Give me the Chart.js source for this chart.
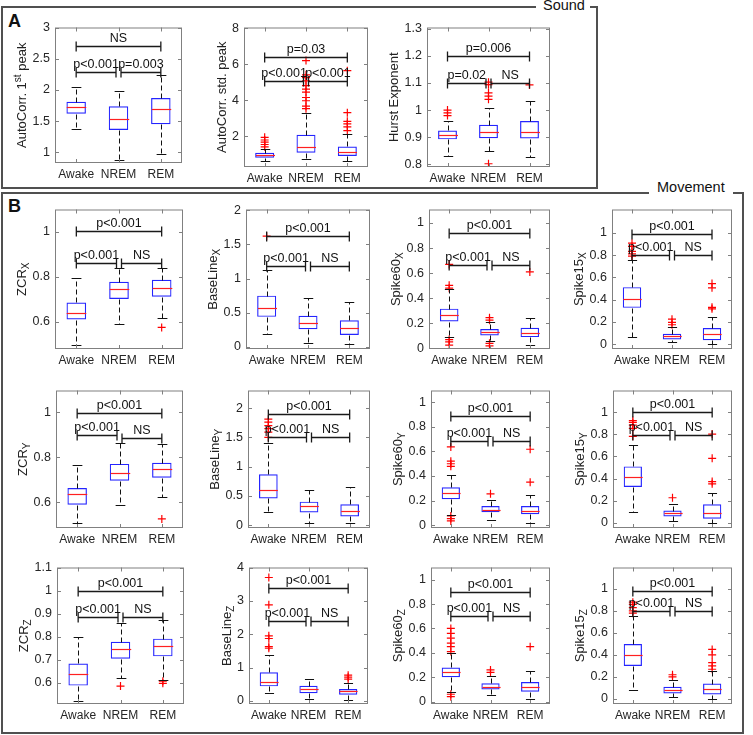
<!DOCTYPE html>
<html>
<head>
<meta charset="utf-8">
<script src="https://cdn.jsdelivr.net/npm/chart.js@4/dist/chart.umd.min.js"></script>
<style>
body { margin: 0; background: #fff; width: 753px; height: 735px; position: relative; overflow: hidden; font-family: 'Liberation Sans', Arial, sans-serif; }
canvas { position: absolute; }
.ln { position: absolute; background: #505050; }
.tx { position: absolute; color: #111; white-space: nowrap; line-height: 1; }
</style>
</head>
<body>
<!-- panel A frame -->
<div class="ln" style="left:1px;top:6px;width:535px;height:2px"></div>
<div class="ln" style="left:590px;top:6px;width:8px;height:2px"></div>
<div class="ln" style="left:596px;top:6px;width:2px;height:183px"></div>
<div class="ln" style="left:1px;top:6px;width:2px;height:183px"></div>
<div class="ln" style="left:1px;top:187px;width:597px;height:2px"></div>
<div class="tx" style="left:543px;top:-2px;font-size:14.5px">Sound</div>
<div class="tx" style="left:8px;top:12px;font-size:18px;font-weight:bold">A</div>
<!-- panel B frame -->
<div class="ln" style="left:1px;top:192px;width:648px;height:2px"></div>
<div class="ln" style="left:733px;top:192px;width:10px;height:2px"></div>
<div class="ln" style="left:742px;top:192px;width:2px;height:542px"></div>
<div class="ln" style="left:1px;top:192px;width:2px;height:542px"></div>
<div class="ln" style="left:1px;top:732px;width:743px;height:2px"></div>
<div class="tx" style="left:657px;top:180px;font-size:14.5px">Movement</div>
<div class="tx" style="left:8px;top:197px;font-size:18px;font-weight:bold">B</div>

<script>
// Data
const categories = ['Awake', 'NREM', 'REM'];

const yLabelParts = [
    [['AutoCorr. 1', 'n'], ['st', 'sup'], [' peak', 'n']],
    [['AutoCorr. std. peak', 'n']],
    [['Hurst Exponent', 'n']],
    [['ZCR', 'n'], ['X', 'sub']],
    [['BaseLine', 'n'], ['X', 'sub']],
    [['Spike60', 'n'], ['X', 'sub']],
    [['Spike15', 'n'], ['X', 'sub']],
    [['ZCR', 'n'], ['Y', 'sub']],
    [['BaseLine', 'n'], ['Y', 'sub']],
    [['Spike60', 'n'], ['Y', 'sub']],
    [['Spike15', 'n'], ['Y', 'sub']],
    [['ZCR', 'n'], ['Z', 'sub']],
    [['BaseLine', 'n'], ['Z', 'sub']],
    [['Spike60', 'n'], ['Z', 'sub']],
    [['Spike15', 'n'], ['Z', 'sub']]
];

const yLimits = [
    [0.83, 3], [0.3, 8.05], [0.79, 1.305],
    [0.48, 1.1], [-0.03, 2.01], [-0.005, 1.108], [-0.044, 1.21],
    [0.487, 1.096], [-0.05, 2.3], [-0.024, 1.097], [-0.046, 1.195],
    [0.507, 1.1], [-0.095, 4], [-0.02, 1.1], [-0.046, 1.195]
];

const yTicks = [
    [1, 1.5, 2, 2.5, 3], [2, 4, 6, 8], [0.8, 0.9, 1, 1.1, 1.2, 1.3],
    [0.6, 0.8, 1], [0, 0.5, 1, 1.5, 2], [0, 0.2, 0.4, 0.6, 0.8, 1], [0, 0.2, 0.4, 0.6, 0.8, 1],
    [0.6, 0.8, 1], [0, 0.5, 1, 1.5, 2], [0, 0.2, 0.4, 0.6, 0.8, 1], [0, 0.2, 0.4, 0.6, 0.8, 1],
    [0.6, 0.7, 0.8, 0.9, 1, 1.1], [0, 1, 2, 3, 4], [0, 0.2, 0.4, 0.6, 0.8, 1], [0, 0.2, 0.4, 0.6, 0.8, 1]
];

// box statistics per panel: [Awake, NREM, REM]
const whiskerLow = [
    [1.37, 0.88, 0.97], [0.61, 0.74, 0.61], [0.83, 0.848, 0.826],
    [0.497, 0.59, 0.619], [0.19, 0.06, 0.04], [0.09, 0.057, 0.03], [0.064, 0.02, 0],
    [0.507, 0.589, 0.624], [0.22, 0.044, 0.044], [0.084, 0.04, 0.013], [0.102, 0.02, 0.003],
    [0.52, 0.622, 0.613], [0.241, 0.068, 0.039], [0.08, 0.05, 0.02], [0.08, 0.02, 0]
];
const q1 = [
    [1.62, 1.36, 1.45], [0.81, 1.09, 0.91], [0.892, 0.896, 0.895],
    [0.611, 0.702, 0.712], [0.44, 0.26, 0.175], [0.214, 0.103, 0.09], [0.326, 0.041, 0.035],
    [0.59, 0.696, 0.71], [0.456, 0.214, 0.148], [0.21, 0.105, 0.089], [0.324, 0.058, 0.038],
    [0.587, 0.704, 0.714], [0.434, 0.231, 0.183], [0.2, 0.1, 0.08], [0.3, 0.05, 0.04]
];
const median = [
    [1.73, 1.54, 1.7], [0.96, 1.42, 1.12], [0.907, 0.92, 0.92],
    [0.64, 0.748, 0.753], [0.57, 0.35, 0.28], [0.27, 0.13, 0.124], [0.404, 0.07, 0.087],
    [0.637, 0.731, 0.747], [0.604, 0.319, 0.247], [0.263, 0.126, 0.118], [0.414, 0.085, 0.09],
    [0.639, 0.746, 0.757], [0.569, 0.357, 0.289], [0.24, 0.12, 0.12], [0.4, 0.08, 0.09]
];
const q3 = [
    [1.81, 1.74, 1.87], [1.09, 2.09, 1.44], [0.925, 0.946, 0.96],
    [0.687, 0.779, 0.788], [0.75, 0.455, 0.39], [0.317, 0.155, 0.165], [0.512, 0.093, 0.145],
    [0.664, 0.771, 0.776], [0.868, 0.4, 0.357], [0.308, 0.155, 0.155], [0.51, 0.111, 0.169],
    [0.683, 0.777, 0.791], [0.858, 0.453, 0.357], [0.28, 0.15, 0.16], [0.5, 0.11, 0.14]
];
const whiskerHigh = [
    [2.05, 1.99, 2.24], [1.3, 3.28, 2.15], [0.958, 1.006, 1.033],
    [0.794, 0.841, 0.841], [1.13, 0.71, 0.66], [0.47, 0.21, 0.24], [0.756, 0.15, 0.244],
    [0.767, 0.864, 0.861], [1.4, 0.604, 0.648], [0.408, 0.205, 0.245], [0.7, 0.175, 0.27],
    [0.8, 0.861, 0.872], [1.37, 0.646, 0.55], [0.4, 0.21, 0.25], [0.75, 0.17, 0.25]
];
const outliers = [
    [[], [], []],
    [[1.42, 1.55, 1.68, 1.8, 1.95], [3.54, 3.68, 3.98, 4.16, 4.46, 4.63, 4.82, 5.09, 5.26, 5.42, 6.21], [2.32, 2.53, 2.7, 2.84, 3.32, 5.65]],
    [[0.98, 0.99, 1.0], [1.04, 1.052, 1.064, 1.094, 1.103, 0.802], [1.093]],
    [[], [], [0.576]],
    [[1.62], [], []],
    [[0.67, 0.503, 0.48, 0.07, 0.052, 0.026], [0.245, 0.225, 0.04, 0.02], [0.61]],
    [[0.79, 0.811, 0.834, 0.878, 0.907], [0.174, 0.195, 0.224], [0.317, 0.331, 0.506, 0.544]],
    [[], [], [0.527]],
    [[1.5, 1.59, 1.65, 1.7, 1.76, 1.81], [], []],
    [[0.637, 0.521, 0.5, 0.479, 0.074, 0.053, 0.034], [0.255], [0.35, 0.618]],
    [[0.781, 0.854, 0.883, 0.907, 0.924], [0.227], [0.353, 0.373, 0.583, 0.802]],
    [[], [0.585], [0.597, 0.606]],
    [[1.58, 1.63, 1.87, 1.95, 2.88, 3.7], [], [0.65, 0.71, 0.77]],
    [[0.41, 0.45, 0.48, 0.52, 0.56, 0.6, 0.06, 0.04], [0.24, 0.26], [0.45]],
    [[0.78, 0.8, 0.83, 0.86, 0.88], [0.2, 0.22], [0.27, 0.3, 0.33, 0.4, 0.45]]
];

// significance brackets: [Awake-REM, Awake-NREM, NREM-REM]
const bracketY = [
    [2.71, 2.28, 2.28], [6.39, 5.09, 5.09], [1.2, 1.1, 1.1],
    [1.006, 0.862, 0.862], [1.625, 1.185, 1.185], [0.924, 0.666, 0.666], [0.988, 0.805, 0.805],
    [0.997, 0.897, 0.884], [1.9, 1.5, 1.5], [0.889, 0.684, 0.684], [1.0, 0.796, 0.796],
    [1.0, 0.885, 0.885], [3.37, 2.4, 2.4], [0.9, 0.7, 0.7], [0.98, 0.8, 0.8]
];
const bracketText = [
    ['NS', 'p<0.001', 'p=0.003'], ['p=0.03', 'p<0.001', 'p<0.001'], ['p=0.006', 'p=0.02', 'NS'],
    ['p<0.001', 'p<0.001', 'NS'], ['p<0.001', 'p<0.001', 'NS'], ['p<0.001', 'p<0.001', 'NS'], ['p<0.001', 'p<0.001', 'NS'],
    ['p<0.001', 'p<0.001', 'NS'], ['p<0.001', 'p<0.001', 'NS'], ['p<0.001', 'p<0.001', 'NS'], ['p<0.001', 'p<0.001', 'NS'],
    ['p<0.001', 'p<0.001', 'NS'], ['p<0.001', 'p<0.001', 'NS'], ['p<0.001', 'p<0.001', 'NS'], ['p<0.001', 'p<0.001', 'NS']
];

// plot area of each panel on the page: left, top, right, bottom
const panelBoxes = [
    [55, 23, 182, 163], [244, 23, 368, 167], [427, 23, 550, 167],
    [55, 205, 183, 349], [246, 205, 370, 349], [429, 205, 550, 349], [612, 205, 732, 349],
    [56, 386, 183, 528], [248, 386, 370, 528], [431, 386, 550, 528], [613, 386, 732, 528],
    [57, 563, 184, 704], [249, 563, 368, 704], [431, 563, 550, 704], [613, 563, 732, 704]
];

const FONT = "'Liberation Sans', Arial, sans-serif";
const AXIS_W = 54, AXIS_H = 24, PAD_TOP = 8, PAD_RIGHT = 6;
Chart.defaults.font.family = FONT;

function line(ctx, x1, y1, x2, y2) {
    ctx.beginPath();
    ctx.moveTo(x1, y1);
    ctx.lineTo(x2, y2);
    ctx.stroke();
}

// Whiskers, medians, axes box, brackets, y label
const boxExtras = {
    id: 'boxExtras',
    afterDatasetsDraw(chart) {
        const p = chart.options.plugins.boxExtras.panel;
        const { ctx, scales: { x, y } } = chart;
        const bars = chart.getDatasetMeta(0).data;
        ctx.save();
        categories.forEach((c, i) => {
            const cx = Math.round(x.getPixelForValue(i)) + 0.5;
            const hw = bars[i].width / 2;
            const py = v => Math.round(y.getPixelForValue(v)) + 0.5;
            ctx.strokeStyle = '#111';
            ctx.lineWidth = 1;
            ctx.setLineDash([5, 3]);
            line(ctx, cx, py(q3[p][i]), cx, py(whiskerHigh[p][i]));
            line(ctx, cx, py(q1[p][i]), cx, py(whiskerLow[p][i]));
            ctx.setLineDash([]);
            line(ctx, cx - hw / 2, py(whiskerHigh[p][i]), cx + hw / 2, py(whiskerHigh[p][i]));
            line(ctx, cx - hw / 2, py(whiskerLow[p][i]), cx + hw / 2, py(whiskerLow[p][i]));
            ctx.strokeStyle = '#ff2020';
            ctx.lineWidth = 1.2;
            line(ctx, cx - hw, py(median[p][i]), cx + hw, py(median[p][i]));
        });
        ctx.restore();
    },
    afterDraw(chart) {
        const p = chart.options.plugins.boxExtras.panel;
        const { ctx, chartArea: a, scales: { x, y } } = chart;
        ctx.save();

        // axes box with inward ticks
        ctx.strokeStyle = '#808080';
        ctx.lineWidth = 1;
        ctx.strokeRect(a.left + 0.5, a.top + 0.5, a.right - a.left - 1, a.bottom - a.top - 1);
        y.ticks.forEach(t => {
            const py = Math.round(y.getPixelForValue(t.value)) + 0.5;
            line(ctx, a.left, py, a.left + 4, py);
            line(ctx, a.right - 4, py, a.right, py);
        });
        categories.forEach((c, i) => {
            const px = Math.round(x.getPixelForValue(i)) + 0.5;
            line(ctx, px, a.bottom, px, a.bottom - 4);
            line(ctx, px, a.top, px, a.top + 4);
        });

        // significance brackets
        const x0 = x.getPixelForValue(0), x1 = x.getPixelForValue(1), x2 = x.getPixelForValue(2);
        const spans = [[x0, x2], [x0, x1 - 2.5], [x1 + 2.5, x2]];
        ctx.strokeStyle = '#1a1a1a';
        ctx.fillStyle = '#111';
        ctx.lineWidth = 1.3;
        ctx.font = '12.5px ' + FONT;
        ctx.textAlign = 'center';
        ctx.textBaseline = 'alphabetic';
        spans.forEach(([xa, xb], k) => {
            const yy = Math.round(y.getPixelForValue(bracketY[p][k])) + 0.5;
            line(ctx, xa, yy, xb, yy);
            line(ctx, xa, yy - 5, xa, yy + 5);
            line(ctx, xb, yy - 5, xb, yy + 5);
            ctx.fillText(bracketText[p][k], (xa + xb) / 2, yy - 5);
        });

        // y label with sub/superscript
        ctx.font = '12.5px ' + FONT;
        const maxW = Math.max(...y.ticks.map(t => ctx.measureText(t.label).width));
        const lx = a.left - 5 - maxW - 10;
        const parts = yLabelParts[p];
        const fontFor = k => (k === 'n' ? '13px ' : '10px ') + FONT;
        let total = 0;
        parts.forEach(([t, k]) => { ctx.font = fontFor(k); total += ctx.measureText(t).width; });
        ctx.translate(lx, (a.top + a.bottom) / 2);
        ctx.rotate(-Math.PI / 2);
        ctx.textAlign = 'left';
        ctx.textBaseline = 'middle';
        ctx.fillStyle = '#222';
        let cur = -total / 2;
        parts.forEach(([t, k]) => {
            ctx.font = fontFor(k);
            const dy = k === 'sub' ? 4 : k === 'sup' ? -4 : 0;
            ctx.fillText(t, cur, dy);
            cur += ctx.measureText(t).width;
        });
        ctx.restore();
    }
};

panelBoxes.forEach(([L, T, R, B], p) => {
    const canvas = document.createElement('canvas');
    const w = (R - L) + AXIS_W + PAD_RIGHT;
    const h = (B - T) + PAD_TOP + AXIS_H;
    canvas.width = w;
    canvas.height = h;
    canvas.style.left = (L - AXIS_W) + 'px';
    canvas.style.top = (T - PAD_TOP) + 'px';
    canvas.style.width = w + 'px';
    canvas.style.height = h + 'px';
    document.body.appendChild(canvas);

    const outlierPoints = [];
    categories.forEach((c, i) => {
        outliers[p][i].forEach(v => outlierPoints.push({ x: c, y: v }));
    });

    new Chart(canvas, {
        type: 'bar',
        data: {
            labels: categories,
            datasets: [
                {
                    data: categories.map((c, i) => [q1[p][i], q3[p][i]]),
                    backgroundColor: 'rgba(0,0,0,0)',
                    borderColor: '#2424ff',
                    borderWidth: 1.2,
                    borderSkipped: false,
                    barPercentage: 0.46,
                    categoryPercentage: 1,
                    order: 2
                },
                {
                    type: 'line',
                    data: outlierPoints,
                    showLine: false,
                    pointStyle: 'cross',
                    pointRadius: 4,
                    borderColor: '#ff0000',
                    backgroundColor: '#ff0000',
                    borderWidth: 1.2,
                    order: 1
                }
            ]
        },
        options: {
            responsive: false,
            animation: false,
            devicePixelRatio: 1,
            layout: { padding: { top: PAD_TOP, right: PAD_RIGHT, left: 0, bottom: 0 } },
            plugins: {
                legend: { display: false },
                tooltip: { enabled: false },
                boxExtras: { panel: p }
            },
            scales: {
                x: {
                    grid: { display: false, drawTicks: false },
                    border: { display: false },
                    ticks: { font: { size: 12 }, color: '#262626', padding: 4, maxRotation: 0, autoSkip: false },
                    afterFit(s) { s.height = AXIS_H; }
                },
                y: {
                    min: yLimits[p][0],
                    max: yLimits[p][1],
                    grid: { display: false, drawTicks: false },
                    border: { display: false },
                    ticks: {
                        font: { size: 12.5 },
                        color: '#262626',
                        padding: 5,
                        callback: v => String(+v.toFixed(3))
                    },
                    afterBuildTicks(s) { s.ticks = yTicks[p].map(v => ({ value: v })); },
                    afterFit(s) { s.width = AXIS_W; }
                }
            }
        },
        plugins: [boxExtras]
    });
});
</script>
</body>
</html>
